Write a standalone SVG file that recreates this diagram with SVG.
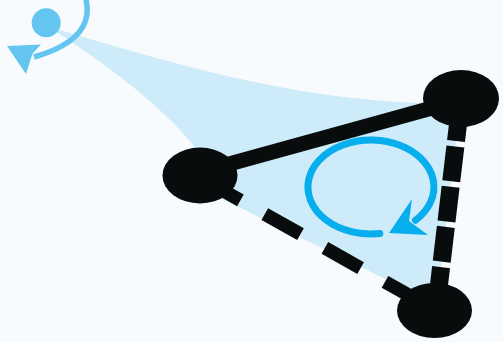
<svg xmlns="http://www.w3.org/2000/svg" width="503" height="342" viewBox="0 0 503 342">
  <style>
    .node { fill: #080c0c; }
    .edge { stroke: #080c0c; fill: none; stroke-linecap: butt; }
    .cone { fill: #cdebf8; }
    .cam { fill: #64c5f1; }
    .camarc { stroke: #64c5f1; stroke-width: 5.5; fill: none; }
    .rot { stroke: #06aeee; stroke-width: 7; fill: none; stroke-linecap: round; }
    .rothead { fill: #06aeee; }
  </style>
  <rect x="0" y="0" width="503" height="342" fill="#f7fbfd"/>
  <g id="view-cone">
    <path class="cone" d="M 47,26 C 160,60 290,100 425,103 L 455,110 L 456,140 L 437,300 L 436,305 L 420,296 L 210,193 L 197,150 Q 155,95 47,26 Z"/>
  </g>
  <g id="connectors">
    <line class="edge" x1="200" y1="172" x2="461" y2="100" stroke-width="15"/>
    <line class="edge" x1="199" y1="177" x2="435" y2="310" stroke-width="13.5" stroke-dasharray="41 28" stroke-dashoffset="62.5"/>
    <line class="edge" x1="461" y1="99" x2="436" y2="310" stroke-width="18" stroke-dasharray="35 5.5" stroke-dashoffset="33.2"/>
  </g>
  <g id="node-left">
    <ellipse class="node" cx="200" cy="175.5" rx="37.5" ry="28"/>
  </g>
  <g id="node-top">
    <ellipse class="node" cx="461" cy="98.5" rx="38" ry="28.5"/>
  </g>
  <g id="node-bottom">
    <ellipse class="node" cx="434.5" cy="310.5" rx="37.5" ry="27.5"/>
  </g>
  <g id="rotation">
    <path class="rot" d="M 379.8,233.5 A 63 47 0 1 1 415.5,220.2"/>
    <polygon class="rothead" points="389,233 412,199 409,221 428,235"/>
  </g>
  <g id="camera">
    <circle class="cam" cx="46.2" cy="22.8" r="14.5"/>
    <path class="camarc" d="M 85,-4 C 93,22 80,44 34,57"/>
    <polygon class="cam" points="7,46 41,44.5 33,53 31,58 26,74"/>
  </g>
</svg>
